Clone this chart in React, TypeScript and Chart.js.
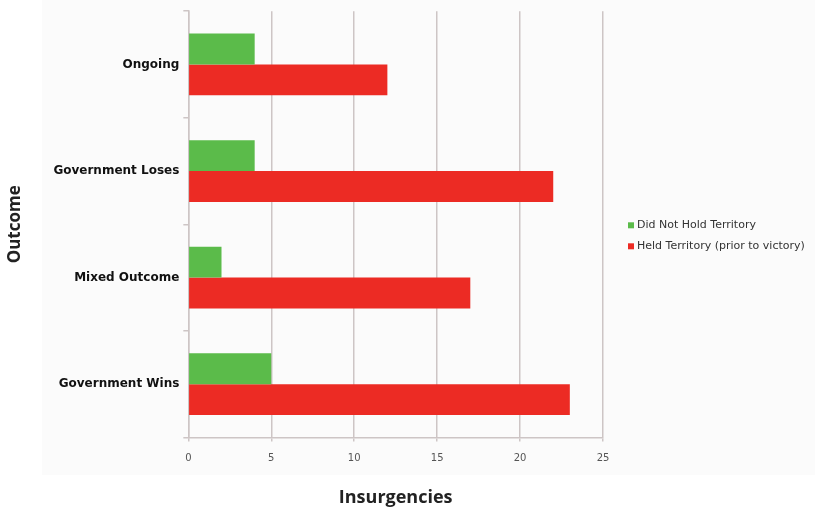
import React, { useEffect, useRef } from "react";
import { Chart, registerables } from "chart.js";

Chart.register(...registerables);

const categories = ["Ongoing", "Government Loses", "Mixed Outcome", "Government Wins"];
const didNotHold = [4, 4, 2, 5];
const heldTerritory = [12, 22, 17, 23];
const seriesNames = ["Did Not Hold Territory", "Held Territory (prior to victory)"];
const seriesColors = ["#5bbb4a", "#ec2b24"];
const xMin = 0;
const xMax = 25;
const xStep = 5;

const panelPlugin = {
  id: "panel",
  beforeDraw(chart: any) {
    const { ctx, width, height } = chart;
    ctx.save();
    ctx.fillStyle = "#ffffff";
    ctx.fillRect(0, 0, width, height);
    ctx.fillStyle = "#fbfbfb";
    ctx.fillRect(42, 0, width - 42, 475);
    ctx.restore();
  },
};

const legendPlugin = {
  id: "sideLegend",
  afterDraw(chart: any) {
    const { ctx, chartArea } = chart;
    const x = chartArea.right + 25;
    const mid = (chartArea.top + chartArea.bottom) / 2 + 1;
    ctx.save();
    ctx.font = "11px 'DejaVu Sans'";
    ctx.textBaseline = "middle";
    chart.data.datasets.forEach((ds: any, i: number) => {
      const y = mid + i * 21;
      ctx.fillStyle = ds.backgroundColor;
      ctx.fillRect(x, y - 3, 6, 6);
      ctx.fillStyle = "#333333";
      ctx.fillText(ds.label, x + 9, y);
    });
    ctx.restore();
  },
};

export default function App() {
  const ref = useRef<HTMLCanvasElement>(null);
  useEffect(() => {
    if (!ref.current) return;
    const chart = new Chart(ref.current, {
      type: "bar",
      data: {
        labels: categories,
        datasets: [
          { label: seriesNames[0], data: didNotHold, backgroundColor: seriesColors[0] },
          { label: seriesNames[1], data: heldTerritory, backgroundColor: seriesColors[1] },
        ],
      },
      options: {
        indexAxis: "y",
        animation: false,
        responsive: false,
        maintainAspectRatio: false,
        layout: { padding: { left: 1, right: 212, top: 4, bottom: 1 } },
        datasets: { bar: { categoryPercentage: 0.58, barPercentage: 1.0 } },
        plugins: { legend: { display: false }, tooltip: { enabled: false } },
        scales: {
          x: {
            min: xMin,
            max: xMax,
            ticks: { stepSize: xStep, color: "#555555", font: { family: "'DejaVu Sans'", size: 10 }, padding: 11 },
            grid: { color: "#cdc5c5", lineWidth: 1.5, tickLength: 4, drawTicks: true },
            border: { color: "#cdc5c5", width: 1.5 },
            title: {
              display: true,
              text: "Insurgencies",
              color: "#222222",
              font: { family: "'Open Sans'", size: 18, weight: "bold" },
              padding: { top: 12, bottom: 0 },
            },
          },
          y: {
            ticks: { color: "#111111", font: { family: "'DejaVu Sans'", size: 12, weight: "bold" }, padding: 4 },
            grid: { drawOnChartArea: false, drawTicks: true, tickLength: 5, color: "#cdc5c5", lineWidth: 1.5, offset: true },
            border: { color: "#cdc5c5", width: 1.5 },
            title: {
              display: true,
              text: "Outcome",
              color: "#222222",
              font: { family: "'Open Sans'", size: 17, weight: "bold" },
              padding: { top: 4, bottom: 24 },
            },
          },
        },
      },
      plugins: [panelPlugin, legendPlugin],
    } as any);
    return () => chart.destroy();
  }, []);
  return (
    <div style={{ position: "fixed", left: 0, top: 0, width: 815, height: 510 }}>
      <canvas ref={ref} width={815} height={510} style={{ width: 815, height: 510 }} />
    </div>
  );
}
